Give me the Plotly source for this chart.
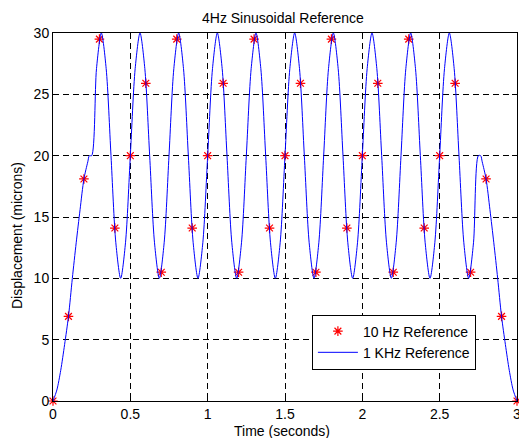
import plotly.graph_objects as go

# 10 Hz samples (t = 0 .. 3 s, step 0.1)
t_10hz = [round(i * 0.1, 1) for i in range(31)]
y_10hz = [0.0, 6.9, 18.1, 29.5, 14.1, 20.0, 25.9, 10.5, 29.5, 14.1,
          20.0, 25.9, 10.5, 29.5, 14.1, 20.0, 25.9, 10.5, 29.5, 14.1,
          20.0, 25.9, 10.5, 29.5, 14.1, 20.0, 25.9, 10.5, 18.1, 6.9, 0.0]

# 1 kHz reference: start ramp, sinusoid part, end ramp
t_ramp_up = [0.0, 0.025, 0.05, 0.075, 0.1, 0.125, 0.15, 0.175, 0.2, 0.225, 0.235]
y_ramp_up = [0.0, 0.9, 2.5, 4.6, 6.9, 10.0, 12.9, 15.6, 18.1, 19.5, 20.0]

t_sine = [0.25 + k / 32 for k in range(81)]
y_sine = [20.0, 27.1, 30.0, 27.1, 20.0, 12.9, 10.0, 12.9,
          20.0, 27.1, 30.0, 27.1, 20.0, 12.9, 10.0, 12.9,
          20.0, 27.1, 30.0, 27.1, 20.0, 12.9, 10.0, 12.9,
          20.0, 27.1, 30.0, 27.1, 20.0, 12.9, 10.0, 12.9,
          20.0, 27.1, 30.0, 27.1, 20.0, 12.9, 10.0, 12.9,
          20.0, 27.1, 30.0, 27.1, 20.0, 12.9, 10.0, 12.9,
          20.0, 27.1, 30.0, 27.1, 20.0, 12.9, 10.0, 12.9,
          20.0, 27.1, 30.0, 27.1, 20.0, 12.9, 10.0, 12.9,
          20.0, 27.1, 30.0, 27.1, 20.0, 12.9, 10.0, 12.9,
          20.0, 27.1, 30.0, 27.1, 20.0, 12.9, 10.0, 12.9,
          20.0]

t_ramp_down = [2.765, 2.775, 2.8, 2.825, 2.85, 2.875, 2.9, 2.925, 2.95, 2.975, 3.0]
y_ramp_down = [20.0, 19.5, 18.1, 15.6, 12.9, 10.0, 6.9, 4.6, 2.5, 0.9, 0.0]

x_ticks = [0, 0.5, 1, 1.5, 2, 2.5, 3]
x_tick_text = ["0", "0.5", "1", "1.5", "2", "2.5", "3"]
y_ticks = [0, 5, 10, 15, 20, 25, 30]

font = "Liberation Sans, Arial, sans-serif"
FS = 14

fig = go.Figure()
fig.add_trace(go.Scatter(
    x=t_10hz, y=y_10hz, mode="markers", name="10 Hz Reference",
    marker=dict(symbol="asterisk-open", size=8, color="red",
                line=dict(color="red", width=1.2)),
    cliponaxis=False,
))
fig.add_trace(go.Scatter(
    x=t_ramp_up + t_sine + t_ramp_down,
    y=y_ramp_up + y_sine + y_ramp_down,
    mode="lines", name="1 KHz Reference",
    line=dict(color="blue", width=1, shape="spline", smoothing=0.8),
))

axis_common = dict(
    showline=True, linecolor="black", linewidth=1, mirror="allticks",
    ticks="inside", ticklen=5, tickcolor="black",
    showgrid=True, gridcolor="black", gridwidth=1, griddash="6px,4px",
    zeroline=False, tickfont=dict(family=font, size=FS, color="black"),
    ticklabeloverflow="allow", automargin=False,
)

fig.update_layout(
    width=519, height=438,
    margin=dict(l=53, r=2, t=33, b=37, autoexpand=False),
    paper_bgcolor="white", plot_bgcolor="white",
    font=dict(family=font, size=FS, color="black"),
    xaxis=dict(range=[0, 3], tickvals=x_ticks, ticktext=x_tick_text, **axis_common),
    yaxis=dict(range=[0, 30], tickvals=y_ticks, **axis_common),
    legend=dict(x=0.558, y=0.235, xanchor="left", yanchor="top",
                bgcolor="white", bordercolor="black", borderwidth=1,
                font=dict(family=font, size=FS, color="black"),
                tracegroupgap=0, itemwidth=40),
    showlegend=True,
    annotations=[
        dict(text="4Hz Sinusoidal Reference", xref="paper", yref="paper",
             x=0.4957, y=1.0408, xanchor="center", yanchor="middle",
             showarrow=False, font=dict(family=font, size=FS, color="black")),
        dict(text="Time (seconds)", xref="paper", yref="paper",
             x=0.4925, y=-0.0815, xanchor="center", yanchor="middle",
             showarrow=False, font=dict(family=font, size=FS, color="black")),
        dict(text="Displacement (microns)", xref="paper", yref="paper",
             x=-0.0776, y=0.451, xanchor="center", yanchor="middle", textangle=-90,
             showarrow=False, font=dict(family=font, size=FS, color="black")),
    ],
)

fig.write_html("out.html")
